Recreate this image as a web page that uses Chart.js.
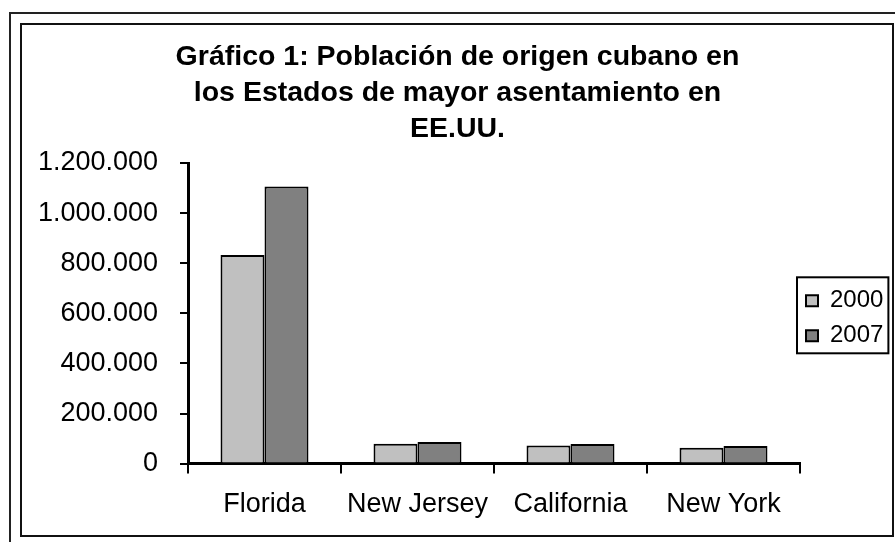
<!DOCTYPE html>
<html>
<head>
<meta charset="utf-8">
<script src="https://cdn.jsdelivr.net/npm/chart.js@4/dist/chart.umd.min.js"></script>
<style>
  html, body { margin: 0; padding: 0; background: #fff; }
  body { width: 895px; height: 542px; position: relative; overflow: hidden; }
  #outer { position: absolute; left: 9px; top: 12px; width: 900px; height: 540px;
           border-left: 2px solid #222; border-top: 2px solid #222; box-sizing: border-box; }
  #inner { position: absolute; left: 20px; top: 23px; width: 874px; height: 514px;
           border: 2px solid #111; box-sizing: border-box; }
  #wrap { position: absolute; left: 0; top: 0; width: 895px; height: 542px; }
</style>
</head>
<body>
<div id="outer"></div>
<div id="inner"></div>
<div id="wrap"><canvas id="c" width="895" height="542"></canvas></div>
<script>
const categories = ['Florida', 'New Jersey', 'California', 'New York'];
const seriesNames = ['2000', '2007'];
const values2000 = [833000, 79000, 72000, 63000];
const values2007 = [1106000, 86000, 78000, 70000];
const yTickValues = [0, 200000, 400000, 600000, 800000, 1000000, 1200000];
const yTickLabels = ['0', '200.000', '400.000', '600.000', '800.000', '1.000.000', '1.200.000'];
const titleLines = ['Gráfico 1: Población de origen cubano en', 'los Estados de mayor asentamiento en', 'EE.UU.'];

const FONT = "'Liberation Sans', Arial, Helvetica, sans-serif";

const legendNudge = {
  id: 'legendNudge',
  afterLayout(chart) {
    const lg = chart.legend;
    if (!lg) return;
    lg.left -= 5; lg.right -= 5;
    lg.top += 5; lg.bottom += 5;
  },
  afterDraw(chart) {
    const lg = chart.legend;
    if (!lg || !lg.legendHitBoxes || !lg.legendHitBoxes.length) return;
    const hb = lg.legendHitBoxes;
    const first = hb[0], last = hb[hb.length - 1];
    let right = 0;
    hb.forEach(h => { right = Math.max(right, h.left + h.width); });
    const ctx = chart.ctx;
    ctx.save();
    ctx.strokeStyle = '#000';
    ctx.lineWidth = 2;
    const x0 = first.left - 9, y0 = first.top - 11.5;
    ctx.strokeRect(x0, y0, right + 5 - x0, last.top + last.height + 5.5 - y0);
    ctx.restore();
  }
};

new Chart(document.getElementById('c'), {
  type: 'bar',
  data: {
    labels: categories,
    datasets: [
      { label: seriesNames[0], data: values2000, backgroundColor: '#c0c0c0', borderColor: '#000', borderWidth: 2,
        categoryPercentage: 0.575, barPercentage: 1.0 },
      { label: seriesNames[1], data: values2007, backgroundColor: '#808080', borderColor: '#000', borderWidth: 2,
        categoryPercentage: 0.575, barPercentage: 1.0 }
    ]
  },
  options: {
    responsive: false,
    animation: false,
    devicePixelRatio: 1,
    layout: { padding: { left: 20, right: 0, top: 23, bottom: 6 } },
    plugins: {
      title: {
        display: true,
        text: titleLines,
        color: '#000',
        font: { family: FONT, size: 28.5, weight: 'bold', lineHeight: 36 / 28.5 },
        padding: { top: 16, bottom: 16 }
      },
      legend: {
        display: true,
        position: 'right',
        fullSize: false,
        align: 'center',
        maxWidth: 95,
        labels: {
          color: '#000',
          font: { family: FONT, size: 24 },
          boxWidth: 12,
          boxHeight: 11,
          padding: 11
        }
      },
      tooltip: { enabled: false }
    },
    scales: {
      x: {
        offset: true,
        grid: { display: true, drawOnChartArea: false, offset: true, drawTicks: true, tickLength: 10, color: '#000', lineWidth: 2 },
        border: { display: true, color: '#000', width: 3 },
        ticks: { color: '#000', font: { family: FONT, size: 27 }, padding: 15, maxRotation: 0, autoSkip: false }
      },
      y: {
        min: yTickValues[0],
        max: yTickValues[yTickValues.length - 1],
        afterBuildTicks(scale) { scale.ticks = yTickValues.map(v => ({ value: v })); },
        afterFit(scale) { scale.width = 168; },
        grid: { display: true, drawOnChartArea: false, drawTicks: true, tickLength: 8, color: '#000', lineWidth: 2 },
        border: { display: true, color: '#000', width: 3 },
        ticks: {
          color: '#000',
          font: { family: FONT, size: 27 },
          padding: 22,
          callback: (v, i) => yTickLabels[i]
        }
      }
    }
  },
  plugins: [legendNudge]
});
</script>
</body>
</html>
